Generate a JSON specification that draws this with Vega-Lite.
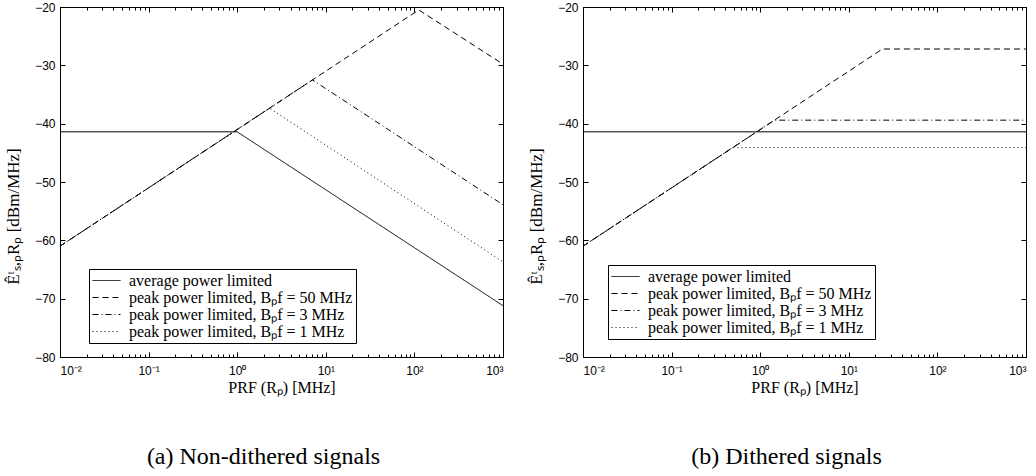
{
  "$schema": "https://vega.github.io/schema/vega-lite/v6.json",
  "background": "white",
  "padding": {"left": 3, "top": 0, "right": 5, "bottom": 0},
  "spacing": 20,
  "resolve": {"scale": {"strokeDash": "independent"}, "legend": {"strokeDash": "independent"}},
  "config": {
    "view": {"stroke": "black", "strokeWidth": 1},
    "title": {"font": "Liberation Serif", "fontSize": 24, "fontWeight": "normal", "color": "black"}
  },
  "datasets": {
    "a": [
      {"series": "average power limited", "prf": 0.01, "db": -41.4},
      {"series": "average power limited", "prf": 1, "db": -41.4},
      {"series": "average power limited", "prf": 1000, "db": -71.2},
      {"series": "peak power limited, Bₚf = 50 MHz", "prf": 0.01, "db": -61},
      {"series": "peak power limited, Bₚf = 50 MHz", "prf": 112, "db": -20.5},
      {"series": "peak power limited, Bₚf = 50 MHz", "prf": 1000, "db": -29.8},
      {"series": "peak power limited, Bₚf = 3 MHz", "prf": 0.01, "db": -61},
      {"series": "peak power limited, Bₚf = 3 MHz", "prf": 7.08, "db": -32.5},
      {"series": "peak power limited, Bₚf = 3 MHz", "prf": 1000, "db": -53.9},
      {"series": "peak power limited, Bₚf = 1 MHz", "prf": 0.01, "db": -61},
      {"series": "peak power limited, Bₚf = 1 MHz", "prf": 2.32, "db": -37.35},
      {"series": "peak power limited, Bₚf = 1 MHz", "prf": 1000, "db": -63.7}
    ],
    "b": [
      {"series": "average power limited", "prf": 0.01, "db": -41.4},
      {"series": "average power limited", "prf": 1000, "db": -41.4},
      {"series": "peak power limited, Bₚf = 50 MHz", "prf": 0.01, "db": -61},
      {"series": "peak power limited, Bₚf = 50 MHz", "prf": 24, "db": -27.2},
      {"series": "peak power limited, Bₚf = 50 MHz", "prf": 1000, "db": -27.2},
      {"series": "peak power limited, Bₚf = 3 MHz", "prf": 0.01, "db": -61},
      {"series": "peak power limited, Bₚf = 3 MHz", "prf": 1.45, "db": -39.4},
      {"series": "peak power limited, Bₚf = 3 MHz", "prf": 1000, "db": -39.4},
      {"series": "peak power limited, Bₚf = 1 MHz", "prf": 0.01, "db": -61},
      {"series": "peak power limited, Bₚf = 1 MHz", "prf": 0.49, "db": -44.1},
      {"series": "peak power limited, Bₚf = 1 MHz", "prf": 1000, "db": -44.1}
    ]
  },
  "hconcat": [
    {
      "width": 443, "height": 350,
      "data": {"name": "a"},
      "title": {"text": "(a) Non-dithered signals", "orient": "bottom", "offset": 50, "dx": -18},
      "resolve": {"axis": {"x": "independent", "y": "independent"}},
      "layer": [
        {
          "mark": {"type": "line", "strokeWidth": 1, "color": "black"},
          "encoding": {
            "x": {"field": "prf", "type": "quantitative", "scale": {"type": "log", "domain": [0.01, 1000]},
              "axis": {"orient": "bottom", "tickCount": 5, "grid": false, "domainColor": "black", "ticks": false, "labelPadding": 8, "labelFont": "Liberation Sans", "labelFontSize": 12, "labelColor": "black", "title": "PRF (Rₚ) [MHz]", "titleFont": "Liberation Serif", "titleFontSize": 16, "titleFontWeight": "normal", "titleColor": "black", "titlePadding": 3,
                "labelExpr": "datum.value < 0.05 ? '10⁻²' : datum.value < 0.5 ? '10⁻¹' : datum.value < 5 ? '10⁰' : datum.value < 50 ? '10¹' : datum.value < 500 ? '10²' : '10³'"}},
            "y": {"field": "db", "type": "quantitative", "scale": {"domain": [-80, -20]},
              "axis": {"orient": "left", "tickCount": 6, "grid": false, "domainColor": "black", "ticks": false, "labelPadding": 5, "labelFont": "Liberation Sans", "labelFontSize": 12, "labelColor": "black", "title": "Êᵗₛ,ₚRₚ [dBm/MHz]", "titleFont": "Liberation Serif", "titleFontSize": 17, "titleFontWeight": "normal", "titleColor": "black", "titleY": 209, "titleX": -38}},
            "strokeDash": {"field": "series", "type": "nominal",
              "scale": {"domain": ["average power limited", "peak power limited, Bₚf = 50 MHz", "peak power limited, Bₚf = 3 MHz", "peak power limited, Bₚf = 1 MHz"], "range": [[1, 0], [6, 4], [6, 3, 1, 3], [1, 3]]},
              "legend": {"orient": "none", "legendX": 29, "legendY": 262, "title": null, "symbolType": "M-1,0H2.5", "symbolSize": 256, "symbolStrokeColor": "black", "symbolStrokeWidth": 1, "labelFont": "Liberation Serif", "labelFontSize": 16, "labelLimit": 400, "labelOffset": 20, "fillColor": "white", "strokeColor": "black", "padding": 3, "rowPadding": 0, "cornerRadius": 0}}
          }
        },
        {
          "mark": {"type": "line", "opacity": 0},
          "encoding": {
            "x": {"field": "prf", "type": "quantitative", "axis": {"orient": "bottom", "tickCount": 5, "grid": false, "domainColor": "black", "tickColor": "black", "tickSize": -5, "labels": false, "title": null}},
            "y": {"field": "db", "type": "quantitative", "axis": {"orient": "right", "tickCount": 6, "grid": false, "domainColor": "black", "tickColor": "black", "tickSize": -5, "labels": false, "title": null}}
          }
        },
        {
          "mark": {"type": "line", "opacity": 0},
          "encoding": {
            "x": {"field": "prf", "type": "quantitative", "axis": {"orient": "bottom", "tickCount": 50, "grid": false, "domainColor": "black", "tickColor": "black", "tickSize": -3, "labels": false, "title": null}},
            "y": {"field": "db", "type": "quantitative", "axis": {"orient": "left", "tickCount": 6, "grid": false, "domainColor": "black", "tickColor": "black", "tickSize": -5, "labels": false, "title": null}}
          }
        },
        {
          "mark": {"type": "line", "opacity": 0},
          "encoding": {
            "x": {"field": "prf", "type": "quantitative", "axis": {"orient": "top", "tickCount": 5, "grid": false, "domainColor": "black", "tickColor": "black", "tickSize": -5, "labels": false, "title": null}},
            "y": {"field": "db", "type": "quantitative", "axis": null}
          }
        },
        {
          "mark": {"type": "line", "opacity": 0},
          "encoding": {
            "x": {"field": "prf", "type": "quantitative", "axis": {"orient": "top", "tickCount": 50, "grid": false, "domainColor": "black", "tickColor": "black", "tickSize": -3, "labels": false, "title": null}},
            "y": {"field": "db", "type": "quantitative", "axis": null}
          }
        }
      ]
    },
    {
      "width": 443, "height": 350,
      "data": {"name": "b"},
      "title": {"text": "(b) Dithered signals", "orient": "bottom", "offset": 50, "dx": -18},
      "resolve": {"axis": {"x": "independent", "y": "independent"}},
      "layer": [
        {
          "mark": {"type": "line", "strokeWidth": 1, "color": "black"},
          "encoding": {
            "x": {"field": "prf", "type": "quantitative", "scale": {"type": "log", "domain": [0.01, 1000]},
              "axis": {"orient": "bottom", "tickCount": 5, "grid": false, "domainColor": "black", "ticks": false, "labelPadding": 8, "labelFont": "Liberation Sans", "labelFontSize": 12, "labelColor": "black", "title": "PRF (Rₚ) [MHz]", "titleFont": "Liberation Serif", "titleFontSize": 16, "titleFontWeight": "normal", "titleColor": "black", "titlePadding": 3,
                "labelExpr": "datum.value < 0.05 ? '10⁻²' : datum.value < 0.5 ? '10⁻¹' : datum.value < 5 ? '10⁰' : datum.value < 50 ? '10¹' : datum.value < 500 ? '10²' : '10³'"}},
            "y": {"field": "db", "type": "quantitative", "scale": {"domain": [-80, -20]},
              "axis": {"orient": "left", "tickCount": 6, "grid": false, "domainColor": "black", "ticks": false, "labelPadding": 5, "labelFont": "Liberation Sans", "labelFontSize": 12, "labelColor": "black", "title": "Êᵗₛ,ₚRₚ [dBm/MHz]", "titleFont": "Liberation Serif", "titleFontSize": 17, "titleFontWeight": "normal", "titleColor": "black", "titleY": 209, "titleX": -38}},
            "strokeDash": {"field": "series", "type": "nominal",
              "scale": {"domain": ["average power limited", "peak power limited, Bₚf = 50 MHz", "peak power limited, Bₚf = 3 MHz", "peak power limited, Bₚf = 1 MHz"], "range": [[1, 0], [6, 4], [6, 3, 1, 3], [1, 3]]},
              "legend": {"orient": "none", "legendX": 25, "legendY": 258, "title": null, "symbolType": "M-1,0H2.5", "symbolSize": 256, "symbolStrokeColor": "black", "symbolStrokeWidth": 1, "labelFont": "Liberation Serif", "labelFontSize": 16, "labelLimit": 400, "labelOffset": 20, "fillColor": "white", "strokeColor": "black", "padding": 3, "rowPadding": 0, "cornerRadius": 0}}
          }
        },
        {
          "mark": {"type": "line", "opacity": 0},
          "encoding": {
            "x": {"field": "prf", "type": "quantitative", "axis": {"orient": "bottom", "tickCount": 5, "grid": false, "domainColor": "black", "tickColor": "black", "tickSize": -5, "labels": false, "title": null}},
            "y": {"field": "db", "type": "quantitative", "axis": {"orient": "right", "tickCount": 6, "grid": false, "domainColor": "black", "tickColor": "black", "tickSize": -5, "labels": false, "title": null}}
          }
        },
        {
          "mark": {"type": "line", "opacity": 0},
          "encoding": {
            "x": {"field": "prf", "type": "quantitative", "axis": {"orient": "bottom", "tickCount": 50, "grid": false, "domainColor": "black", "tickColor": "black", "tickSize": -3, "labels": false, "title": null}},
            "y": {"field": "db", "type": "quantitative", "axis": {"orient": "left", "tickCount": 6, "grid": false, "domainColor": "black", "tickColor": "black", "tickSize": -5, "labels": false, "title": null}}
          }
        },
        {
          "mark": {"type": "line", "opacity": 0},
          "encoding": {
            "x": {"field": "prf", "type": "quantitative", "axis": {"orient": "top", "tickCount": 5, "grid": false, "domainColor": "black", "tickColor": "black", "tickSize": -5, "labels": false, "title": null}},
            "y": {"field": "db", "type": "quantitative", "axis": null}
          }
        },
        {
          "mark": {"type": "line", "opacity": 0},
          "encoding": {
            "x": {"field": "prf", "type": "quantitative", "axis": {"orient": "top", "tickCount": 50, "grid": false, "domainColor": "black", "tickColor": "black", "tickSize": -3, "labels": false, "title": null}},
            "y": {"field": "db", "type": "quantitative", "axis": null}
          }
        }
      ]
    }
  ]
}
